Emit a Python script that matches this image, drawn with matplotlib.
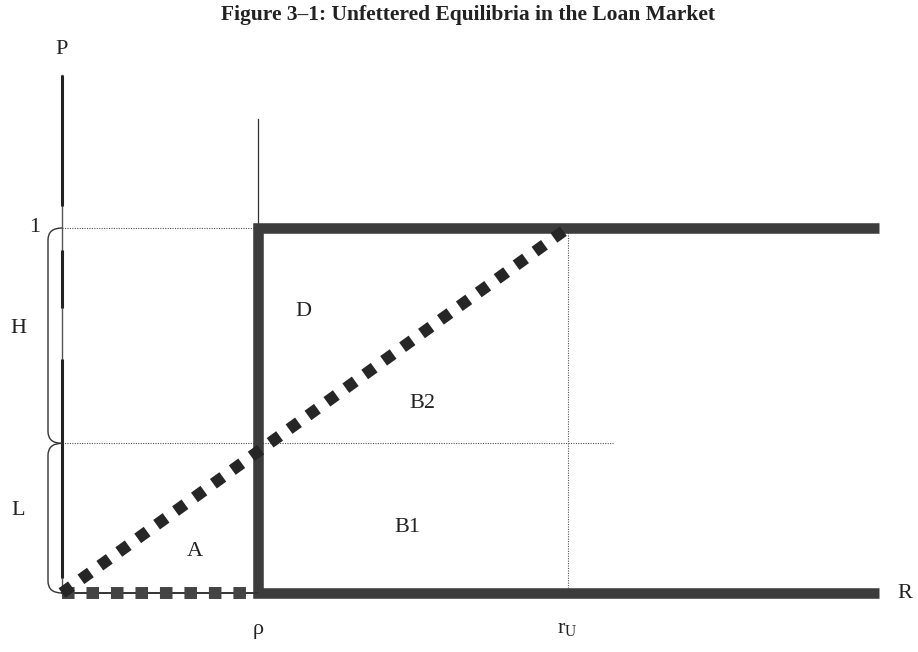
import matplotlib
matplotlib.use("Agg")
import matplotlib.pyplot as plt
from matplotlib.path import Path
from matplotlib.patches import PathPatch

# Data (model units: origin 0, rho = 1 on R axis, top of P range = 1)
rho = 1.0
r_U = 2.58
R_max = 4.17
P_top = 1.0
P_mid = 0.41
P_axis_top = 1.42
rho_line_top = 1.30
mid_line_end = 2.81

region_labels = ["A", "D", "B2", "B1"]
region_pos = [(0.68, 0.115), (1.23, 0.77), (1.84, 0.52), (1.76, 0.18)]

plt.rcParams['font.family'] = ['Liberation Serif', 'DejaVu Serif']

fig = plt.figure(figsize=(9.18, 6.52), dpi=100)
ax = fig.add_axes([0, 0, 1, 1])
sx, sy = 196.0, 365.0
ax.set_xlim(-62 / sx, (918 - 62) / sx)
ax.set_ylim(-59 / sy, (652 - 59) / sy)
ax.axis('off')

dark = '#3c3c3c'

# P axis
ax.plot([0, 0], [0, P_axis_top], color='#555555', lw=1.0, zorder=2)
for y0, y1 in [(1.06, P_axis_top), (0.78, 0.94), (0.04, 0.64)]:
    ax.plot([0, 0], [y0, y1], color='#222222', lw=2.2, solid_capstyle='butt', zorder=2)

# thin vertical line at rho above the thick curve
ax.plot([rho, rho], [P_top, rho_line_top], color='#333333', lw=0.9, zorder=2)

# dotted guide lines
dot_kw = dict(color='#555555', lw=0.8, ls=(0, (1, 1.2)), zorder=1)
ax.plot([0, rho], [P_top, P_top], **dot_kw)
ax.plot([0, mid_line_end], [P_mid, P_mid], **dot_kw)
ax.plot([r_U, r_U], [0, P_top], **dot_kw)

# thick step curve
ax.plot([R_max, rho, rho, R_max], [P_top, P_top, 0, 0], color=dark, lw=7.6,
        solid_joinstyle='miter', solid_capstyle='butt', zorder=3)

# dotted square segment on R axis between 0 and rho
ax.plot([0, rho], [0, 0], color='#333333', lw=1.4, zorder=3)
ax.plot([0, rho], [0, 0], color='#444444', lw=8.6, ls=(0, (1.05, 1.0)),
        solid_capstyle='butt', dash_capstyle='butt', zorder=3)

# diagonal dotted square line
ax.plot([0, r_U], [0, P_top], color='#262626', lw=8.4, ls=(0, (1.0, 1.0)),
        dash_capstyle='butt', zorder=4)


# braces
def brace(y_top, y_bot, x_line=-14 / sx, r=12):
    ry = r / sy
    verts = [(0, y_top), (x_line, y_top), (x_line, y_top - ry),
             (x_line, y_bot + ry), (x_line, y_bot), (0, y_bot)]
    codes = [Path.MOVETO, Path.CURVE3, Path.CURVE3,
             Path.LINETO, Path.CURVE3, Path.CURVE3]
    ax.add_patch(PathPatch(Path(verts, codes), fc='none', ec='#333333', lw=1.0, zorder=2))


brace(P_top, P_mid)
brace(P_mid, 0)

tkw = dict(fontsize=16, color='#222222', ha='center', va='center')
ax.text(0, 1.49, 'P', **tkw)
ax.text(-27 / sx, P_top, '1', **tkw)
ax.text(-44 / sx, (P_top + P_mid) / 2 + 0.02, 'H', **tkw)
ax.text(-44 / sx, P_mid / 2 + 0.02, 'L', **tkw)
for lab, (x, y) in zip(region_labels, region_pos):
    ax.text(x, y, lab, **tkw)
ax.text(rho, -0.10, 'ρ', **tkw)
ax.text(r_U, -0.10, r'r$_{\mathregular{U}}$', **tkw)
ax.text(R_max + 25 / sx, 0, 'R', **tkw)

fig.text(468 / 918, 1 - 15 / 652, 'Figure 3–1: Unfettered Equilibria in the Loan Market',
         ha='center', va='center', fontsize=15.5, fontweight='bold', color='#222222')

fig.savefig('out.png', dpi=100)
